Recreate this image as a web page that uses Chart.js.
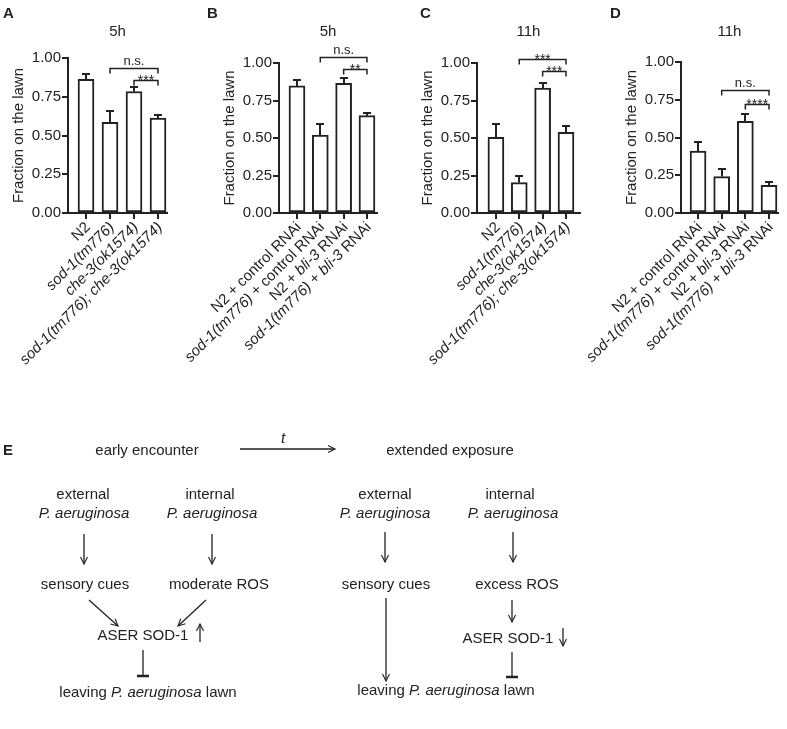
<!DOCTYPE html>
<html>
<head>
<meta charset="utf-8">
<script src="https://cdn.jsdelivr.net/npm/chart.js@4.4.1/dist/chart.umd.min.js"></script>
<style>
  body { margin: 0; background: #fff; }
  #fig { position: relative; width: 787px; height: 729px; overflow: hidden; font-family: "Liberation Sans", Arial, sans-serif; color: #222; }
  #fig canvas { position: absolute; left: 0; top: 0; }
  .tag { position: absolute; font-weight: bold; font-size: 15px; line-height: 15px; }
  #diagram { position: absolute; left: 0; top: 0; }
</style>
</head>
<body>
<div id="fig">
  <canvas id="chartA" width="787" height="400"></canvas>
  <canvas id="chartB" width="787" height="400"></canvas>
  <canvas id="chartC" width="787" height="400"></canvas>
  <canvas id="chartD" width="787" height="400"></canvas>
  <div class="tag" style="left:3px;top:5px">A</div>
  <div class="tag" style="left:207px;top:5px">B</div>
  <div class="tag" style="left:420px;top:5px">C</div>
  <div class="tag" style="left:610px;top:5px">D</div>

  <svg id="diagram" width="787" height="729" font-family="Liberation Sans, Arial, sans-serif" font-size="15" fill="#222">
    <defs>
      <marker id="head" markerWidth="10" markerHeight="10" refX="8" refY="5" orient="auto" markerUnits="userSpaceOnUse">
        <path d="M1,1.5 L8,5 L1,8.5" fill="none" stroke="#222" stroke-width="1.1"/>
      </marker>
    </defs>
    <g text-anchor="middle" dominant-baseline="central">
      <text x="8" y="449" font-weight="bold">E</text>
      <text x="147" y="449">early encounter</text>
      <text x="283" y="437" font-style="italic">t</text>
      <text x="450" y="449">extended exposure</text>

      <text x="83" y="493">external</text>
      <text x="84" y="512" font-style="italic">P. aeruginosa</text>
      <text x="210" y="493">internal</text>
      <text x="212" y="512" font-style="italic">P. aeruginosa</text>
      <text x="385" y="493">external</text>
      <text x="385" y="512" font-style="italic">P. aeruginosa</text>
      <text x="510" y="493">internal</text>
      <text x="513" y="512" font-style="italic">P. aeruginosa</text>

      <text x="85" y="583">sensory cues</text>
      <text x="219" y="583">moderate ROS</text>
      <text x="386" y="583">sensory cues</text>
      <text x="517" y="583">excess ROS</text>

      <text x="143" y="634">ASER SOD-1</text>
      <text x="508" y="637">ASER SOD-1</text>

      <text x="148" y="691">leaving <tspan font-style="italic">P. aeruginosa</tspan> lawn</text>
      <text x="446" y="689">leaving <tspan font-style="italic">P. aeruginosa</tspan> lawn</text>
    </g>
    <g stroke="#222" stroke-width="1.3" fill="none">
      <line x1="240" y1="449" x2="335" y2="449" marker-end="url(#head)"/>
      <line x1="84" y1="534" x2="84" y2="564" marker-end="url(#head)"/>
      <line x1="212" y1="534" x2="212" y2="564" marker-end="url(#head)"/>
      <line x1="385" y1="532" x2="385" y2="562" marker-end="url(#head)"/>
      <line x1="513" y1="532" x2="513" y2="562" marker-end="url(#head)"/>
      <line x1="89" y1="600" x2="118" y2="626" marker-end="url(#head)"/>
      <line x1="206" y1="600" x2="178" y2="626" marker-end="url(#head)"/>
      <line x1="200" y1="642" x2="200" y2="624" marker-end="url(#head)"/>
      <line x1="386" y1="598" x2="386" y2="681" marker-end="url(#head)"/>
      <line x1="512" y1="600" x2="512" y2="622" marker-end="url(#head)"/>
      <line x1="563" y1="628" x2="563" y2="646" marker-end="url(#head)"/>
      <line x1="143" y1="650" x2="143" y2="676"/>
      <line x1="512" y1="652" x2="512" y2="677"/>
    </g>
    <g stroke="#222" stroke-width="2.5">
      <line x1="137" y1="676" x2="149" y2="676"/>
      <line x1="506" y1="677" x2="518" y2="677"/>
    </g>
  </svg>
</div>

<script>
// ---- data ----
const catsA = ["N2", "<i>sod-1(tm776)</i>", "<i>che-3(ok1574)</i>", "<i>sod-1(tm776); che-3(ok1574)</i>"];
const meanA = [0.862, 0.585, 0.784, 0.613];
const semA = [0.038, 0.071, 0.028, 0.022];
const sigA = [{ a: 1, b: 3, y: 0.935, t: "n.s." }, { a: 2, b: 3, y: 0.86, t: "***" }];

const catsB = ["N2 + control RNAi", "<i>sod-1(tm776)</i> + control RNAi", "N2 + <i>bli-3</i> RNAi", "<i>sod-1(tm776)</i> + <i>bli-3</i> RNAi"];
const meanB = [0.847, 0.52, 0.864, 0.649];
const semB = [0.04, 0.073, 0.038, 0.016];
const sigB = [{ a: 1, b: 3, y: 1.04, t: "n.s." }, { a: 2, b: 3, y: 0.958, t: "**" }];

const catsC = ["N2", "<i>sod-1(tm776)</i>", "<i>che-3(ok1574)</i>", "<i>sod-1(tm776); che-3(ok1574)</i>"];
const meanC = [0.505, 0.203, 0.832, 0.538];
const semC = [0.091, 0.044, 0.038, 0.045];
const sigC = [{ a: 1, b: 3, y: 1.025, t: "***" }, { a: 2, b: 3, y: 0.947, t: "***" }];

const catsD = ["N2 + control RNAi", "<i>sod-1(tm776)</i> + control RNAi", "N2 + <i>bli-3</i> RNAi", "<i>sod-1(tm776)</i> + <i>bli-3</i> RNAi"];
const meanD = [0.41, 0.241, 0.607, 0.184];
const semD = [0.059, 0.053, 0.051, 0.018];
const sigD = [{ a: 1, b: 3, y: 0.816, t: "n.s." }, { a: 2, b: 3, y: 0.72, t: "****" }];

const yTicks = [0, 0.25, 0.5, 0.75, 1];

const INK = "#222";
const FONT = '"Liberation Sans", Arial, sans-serif';
Chart.defaults.font.family = FONT;
Chart.defaults.color = INK;

// draws a rotated label with <i>..</i> parts in italic, right end at (x, y)
function drawLabel(ctx, str, x, y) {
    const parts = str.split(/(<i>.*?<\/i>)/).filter(Boolean).map(s =>
        s.startsWith("<i>") ? { t: s.slice(3, -4), it: true } : { t: s, it: false });
    const fontN = "15px " + FONT;
    const fontI = "italic 15px " + FONT;
    let total = 0;
    parts.forEach(p => {
        ctx.font = p.it ? fontI : fontN;
        p.w = ctx.measureText(p.t).width;
        total += p.w;
    });
    ctx.save();
    ctx.translate(x, y);
    ctx.rotate(-Math.PI / 4);
    ctx.textAlign = "left";
    ctx.textBaseline = "middle";
    let pos = -total;
    parts.forEach(p => {
        ctx.font = p.it ? fontI : fontN;
        ctx.fillText(p.t, pos, 0);
        pos += p.w;
    });
    ctx.restore();
}

const makeExtras = (title, cats, means, sems, sig) => ({
    id: "extras",
    afterDatasetsDraw(chart) {
        const { ctx, chartArea, scales: { x, y } } = chart;
        ctx.save();
        ctx.strokeStyle = INK;
        ctx.fillStyle = INK;

        // error bars (upper whisker only)
        ctx.lineWidth = 2;
        means.forEach((m, i) => {
            const cx = Math.round(x.getPixelForValue(i));
            const y0 = y.getPixelForValue(m);
            const y1 = Math.round(y.getPixelForValue(m + sems[i]));
            ctx.beginPath();
            ctx.moveTo(cx, y0);
            ctx.lineTo(cx, y1);
            ctx.moveTo(cx - 4, y1);
            ctx.lineTo(cx + 4, y1);
            ctx.stroke();
        });

        // significance brackets
        ctx.lineWidth = 1.5;
        ctx.textAlign = "center";
        ctx.textBaseline = "alphabetic";
        sig.forEach(s => {
            const xa = x.getPixelForValue(s.a);
            const xb = x.getPixelForValue(s.b);
            const yy = Math.round(y.getPixelForValue(s.y)) + 0.5;
            ctx.beginPath();
            ctx.moveTo(xa, yy + 5);
            ctx.lineTo(xa, yy);
            ctx.lineTo(xb, yy);
            ctx.lineTo(xb, yy + 5);
            ctx.stroke();
            const star = s.t.startsWith("*");
            ctx.font = (star ? "14px " : "13px ") + FONT;
            ctx.fillText(s.t, (xa + xb) / 2, star ? yy + 4 : yy - 4);
        });

        // panel title
        ctx.font = "15px " + FONT;
        ctx.textBaseline = "middle";
        ctx.fillText(title, (chartArea.left + chartArea.right) / 2, 32);

        // category labels
        cats.forEach((c, i) => drawLabel(ctx, c, x.getPixelForValue(i) + 2, chartArea.bottom + 12));
        ctx.restore();
    }
});

function makePanel(id, title, cats, means, sems, sig, box) {
    const W = 58;
    new Chart(document.getElementById(id), {
        type: "bar",
        data: {
            datasets: [{
                data: means.map((v, i) => ({ x: i, y: v })),
                backgroundColor: "#fff",
                borderColor: INK,
                borderWidth: 2,
                borderSkipped: false,
                barThickness: 16
            }]
        },
        options: {
            responsive: false,
            animation: false,
            devicePixelRatio: 1,
            events: [],
            layout: {
                padding: { left: box.axis - W, right: 787 - box.right, top: box.top, bottom: 400 - 8 - 213 }
            },
            plugins: { legend: { display: false }, tooltip: { enabled: false } },
            scales: {
                x: {
                    type: "linear",
                    offset: false,
                    min: box.min,
                    max: box.max,
                    afterBuildTicks: s => { s.ticks = cats.map((_, i) => ({ value: i })); },
                    afterFit: s => { s.height = 8; },
                    ticks: { display: false },
                    grid: { drawOnChartArea: false, offset: false, tickLength: 6, lineWidth: 2, color: INK },
                    border: { color: INK, width: 2 }
                },
                y: {
                    min: 0,
                    max: 1,
                    afterBuildTicks: s => { s.ticks = yTicks.map(v => ({ value: v })); },
                    afterFit: s => { s.width = W; },
                    ticks: { font: { size: 15 }, color: INK, padding: 1, callback: v => v.toFixed(2) },
                    grid: { drawOnChartArea: false, tickLength: 6, lineWidth: 2, color: INK },
                    border: { color: INK, width: 2 },
                    title: { display: true, text: "Fraction on the lawn", font: { size: 15 }, color: INK, padding: { top: 0, bottom: 0 } }
                }
            }
        },
        plugins: [makeExtras(title, cats, means, sems, sig)]
    });
}

makePanel("chartA", "5h", catsA, meanA, semA, sigA, { axis: 68, right: 167, top: 58, min: -0.75, max: 3.375 });
makePanel("chartB", "5h", catsB, meanB, semB, sigB, { axis: 279, right: 377, top: 63, min: -0.77, max: 3.43 });
makePanel("chartC", "11h", catsC, meanC, semC, sigC, { axis: 477, right: 580, top: 63, min: -0.81, max: 3.6 });
makePanel("chartD", "11h", catsD, meanD, semD, sigD, { axis: 681, right: 778, top: 62, min: -0.72, max: 3.38 });
</script>
</body>
</html>
